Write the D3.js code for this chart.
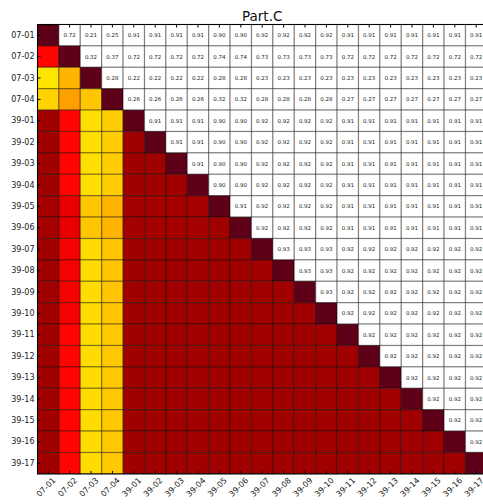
<!DOCTYPE html>
<html>
<head>
<meta charset="utf-8">
<script src="https://cdn.jsdelivr.net/npm/d3@7"></script>
<style>
  body { margin: 0; background: #fff; }
  svg { display: block; font-family: "DejaVu Sans", sans-serif; }
</style>
</head>
<body>
<svg id="chart"></svg>
<script>
(function () {
    const W = 483, H = 504;
    const left = 37.5, top = 24.5, cell = 21.4;

    const labels = ["07-01", "07-02", "07-03", "07-04",
        "39-01", "39-02", "39-03", "39-04", "39-05", "39-06", "39-07", "39-08", "39-09",
        "39-10", "39-11", "39-12", "39-13", "39-14", "39-15", "39-16", "39-17"];

    // upper triangle, row i holds the values for columns i+1 .. end
    const r0701 = [0.72, 0.21, 0.25, 0.91, 0.91, 0.91, 0.91, 0.90, 0.90, 0.92, 0.92, 0.92, 0.92, 0.91, 0.91, 0.91, 0.91, 0.91, 0.91, 0.91];
    const r0702 = [0.32, 0.37, 0.72, 0.72, 0.72, 0.72, 0.74, 0.74, 0.73, 0.73, 0.73, 0.73, 0.72, 0.72, 0.72, 0.72, 0.72, 0.72, 0.72];
    const r0703 = [0.28, 0.22, 0.22, 0.22, 0.22, 0.28, 0.28, 0.23, 0.23, 0.23, 0.23, 0.23, 0.23, 0.23, 0.23, 0.23, 0.23, 0.23];
    const r0704 = [0.26, 0.26, 0.26, 0.26, 0.32, 0.32, 0.28, 0.28, 0.28, 0.28, 0.27, 0.27, 0.27, 0.27, 0.27, 0.27, 0.27];
    const r3901 = [0.91, 0.91, 0.91, 0.90, 0.90, 0.92, 0.92, 0.92, 0.92, 0.91, 0.91, 0.91, 0.91, 0.91, 0.91, 0.91];
    const r3902 = [0.91, 0.91, 0.90, 0.90, 0.92, 0.92, 0.92, 0.92, 0.91, 0.91, 0.91, 0.91, 0.91, 0.91, 0.91];
    const r3903 = [0.91, 0.90, 0.90, 0.92, 0.92, 0.92, 0.92, 0.91, 0.91, 0.91, 0.91, 0.91, 0.91, 0.91];
    const r3904 = [0.90, 0.90, 0.92, 0.92, 0.92, 0.92, 0.91, 0.91, 0.91, 0.91, 0.91, 0.91, 0.91];
    const r3905 = [0.91, 0.92, 0.92, 0.92, 0.92, 0.91, 0.91, 0.91, 0.91, 0.91, 0.91, 0.91];
    const r3906 = [0.92, 0.92, 0.92, 0.92, 0.91, 0.91, 0.91, 0.91, 0.91, 0.91, 0.91];
    const r3907 = [0.93, 0.93, 0.93, 0.92, 0.92, 0.92, 0.92, 0.92, 0.92, 0.92];
    const r3908 = [0.93, 0.93, 0.92, 0.92, 0.92, 0.92, 0.92, 0.92, 0.92];
    const r3909 = [0.93, 0.92, 0.92, 0.92, 0.92, 0.92, 0.92, 0.92];
    const r3910 = [0.92, 0.92, 0.92, 0.92, 0.92, 0.92, 0.92];
    const r3911 = [0.92, 0.92, 0.92, 0.92, 0.92, 0.92];
    const r3912 = [0.92, 0.92, 0.92, 0.92, 0.92];
    const r3913 = [0.92, 0.92, 0.92, 0.92];
    const r3914 = [0.92, 0.92, 0.92];
    const r3915 = [0.92, 0.92];
    const r3916 = [0.92];
    const r3917 = [];
    const upper = [r0701, r0702, r0703, r0704, r3901, r3902, r3903, r3904, r3905, r3906,
        r3907, r3908, r3909, r3910, r3911, r3912, r3913, r3914, r3915, r3916, r3917];

    const svg = d3.select("#chart").attr("width", W).attr("height", H);

    const x = d3.scaleBand().domain(labels).range([left, left + cell * labels.length]);
    const y = d3.scaleBand().domain(labels).range([top, top + cell * labels.length]);

    const color = d3.scaleLinear()
        .domain([0.2, 0.3, 0.37, 0.72, 0.74, 0.91])
        .range(["#ffe800", "#ffbc00", "#ffa000", "#ff0400", "#e80000", "#a00000"])
        .clamp(true);

    const cells = [];
    labels.forEach((rl, i) => {
        labels.forEach((cl, j) => {
            let v = null;
            if (j > i) v = upper[i][j - i - 1];
            else if (j < i) v = upper[j][i - j - 1];
            cells.push({ row: rl, col: cl, i, j, v });
        });
    });

    const g = svg.append("g");

    g.selectAll("rect")
        .data(cells)
        .enter().append("rect")
        .attr("x", d => x(d.col))
        .attr("y", d => y(d.row))
        .attr("width", x.bandwidth())
        .attr("height", y.bandwidth())
        .attr("fill", d => d.i === d.j ? "#5e0018" : (d.j > d.i ? "#fff" : color(d.v)))
        .attr("stroke", "rgba(0,0,0,0.38)")
        .attr("stroke-width", 1.2);

    g.selectAll("text")
        .data(cells.filter(d => d.j > d.i))
        .enter().append("text")
        .attr("x", d => x(d.col) + x.bandwidth() / 2)
        .attr("y", d => y(d.row) + y.bandwidth() / 2)
        .attr("dy", "0.35em")
        .attr("text-anchor", "middle")
        .attr("font-size", "5.5px")
        .attr("fill", "#222")
        .text(d => d.v.toFixed(2));

    const bottom = top + cell * labels.length;

    // axes, ticks pointing inward like matplotlib
    svg.append("g")
        .attr("transform", `translate(${left},0)`)
        .call(d3.axisLeft(y).tickSizeInner(-3).tickSizeOuter(0).tickPadding(3))
        .call(a => a.select(".domain").remove())
        .call(a => a.selectAll("text").attr("font-size", "8px").attr("fill", "#222").attr("font-family", "DejaVu Sans"));

    svg.append("g")
        .attr("transform", `translate(0,${top})`)
        .call(d3.axisTop(x).tickSizeInner(-3).tickSizeOuter(0).tickFormat(""))
        .call(a => a.select(".domain").remove());

    svg.append("g")
        .attr("transform", `translate(0,${bottom})`)
        .call(d3.axisBottom(x).tickSizeInner(-3).tickSizeOuter(0))
        .call(a => a.select(".domain").remove())
        .call(a => a.selectAll("text")
            .attr("font-size", "8px")
            .attr("fill", "#222")
            .attr("font-family", "DejaVu Sans")
            .attr("text-anchor", "end")
            .attr("x", 0).attr("y", 0).attr("dy", 0)
            .attr("transform", "translate(8,7) rotate(-45)"));

    svg.append("rect")
        .attr("x", left).attr("y", top)
        .attr("width", cell * labels.length).attr("height", cell * labels.length)
        .attr("fill", "none").attr("stroke", "#000").attr("stroke-width", 1);

    svg.append("text")
        .attr("x", left + cell * labels.length / 2)
        .attr("y", 21)
        .attr("text-anchor", "middle")
        .attr("font-size", "13.5px")
        .attr("fill", "#111")
        .text("Part.C");
})();
</script>
</body>
</html>
